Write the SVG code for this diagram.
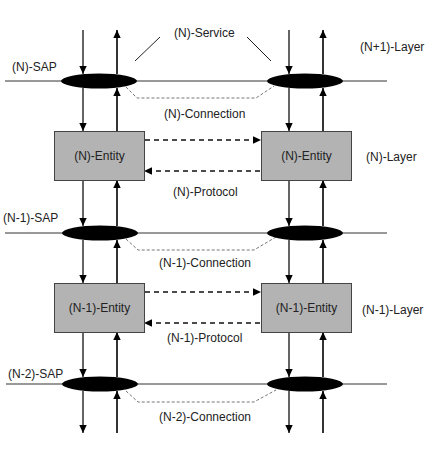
<svg xmlns="http://www.w3.org/2000/svg" width="429" height="465" viewBox="0 0 429 465">
<style>
text{font-family:"Liberation Sans",Arial,sans-serif;font-size:12px;fill:#222}
.box{fill:#b3b3b3;stroke:#444;stroke-width:1}
.sap{fill:#000}
.hl{stroke:#333;stroke-width:1;fill:none}
.dn{stroke:#111;stroke-width:1.3;fill:none;marker-end:url(#ah)}
.up{stroke:#111;stroke-width:1.7;fill:none;marker-end:url(#ah)}
.pr{stroke:#111;stroke-width:1.5;fill:none;stroke-dasharray:5,4;marker-end:url(#ah)}
.cn{stroke:#666;stroke-width:0.9;fill:none;stroke-dasharray:3,2}
.sv{stroke:#222;stroke-width:1;fill:none}
</style>
<defs>
<marker id="ah" viewBox="0 0 8 8" refX="8" refY="4" markerWidth="8" markerHeight="8" markerUnits="userSpaceOnUse" orient="auto">
<path d="M0,0.3 L8,4 L0,7.7 Z" fill="#000"/>
</marker>
</defs>
<g id="layer-lines">
<line class="hl" x1="5" y1="81" x2="387" y2="81"/>
<line class="hl" x1="5" y1="233" x2="387" y2="233"/>
<line class="hl" x1="6" y1="384" x2="387" y2="384"/>
</g>
<g id="connectors">
<!-- left column -->
<line class="dn" x1="83" y1="30" x2="83" y2="74"/>
<line class="up" x1="117" y1="74" x2="117" y2="30"/>
<line class="dn" x1="83" y1="88" x2="83" y2="131"/>
<line class="up" x1="117" y1="131" x2="117" y2="88"/>
<line class="dn" x1="83" y1="180" x2="83" y2="226"/>
<line class="up" x1="117" y1="226" x2="117" y2="180"/>
<line class="dn" x1="83" y1="240" x2="83" y2="283"/>
<line class="up" x1="117" y1="283" x2="117" y2="240"/>
<line class="dn" x1="83" y1="332" x2="83" y2="377"/>
<line class="up" x1="117" y1="377" x2="117" y2="332"/>
<line class="dn" x1="83" y1="391" x2="83" y2="433"/>
<line class="up" x1="117" y1="433" x2="117" y2="391"/>
<!-- right column -->
<line class="dn" x1="289" y1="30" x2="289" y2="74"/>
<line class="up" x1="323" y1="74" x2="323" y2="30"/>
<line class="dn" x1="289" y1="88" x2="289" y2="131"/>
<line class="up" x1="323" y1="131" x2="323" y2="88"/>
<line class="dn" x1="289" y1="180" x2="289" y2="226"/>
<line class="up" x1="323" y1="226" x2="323" y2="180"/>
<line class="dn" x1="289" y1="240" x2="289" y2="283"/>
<line class="up" x1="323" y1="283" x2="323" y2="240"/>
<line class="dn" x1="289" y1="332" x2="289" y2="377"/>
<line class="up" x1="323" y1="377" x2="323" y2="332"/>
<line class="dn" x1="289" y1="391" x2="289" y2="433"/>
<line class="up" x1="323" y1="433" x2="323" y2="391"/>
<!-- protocols -->
<line class="pr" x1="145" y1="140" x2="261" y2="140"/>
<line class="pr" x1="260" y1="171" x2="144" y2="171"/>
<line class="pr" x1="145" y1="292" x2="261" y2="292"/>
<line class="pr" x1="260" y1="323" x2="144" y2="323"/>
<!-- connections -->
<polyline class="cn" points="126,87 137,98 256,98 274,86"/>
<polyline class="cn" points="126,239 138,250 254,250 276,237"/>
<polyline class="cn" points="126,391 138,402 254,402 276,390"/>
<!-- service -->
<line class="sv" x1="135" y1="61" x2="160" y2="37"/>
<line class="sv" x1="247" y1="37" x2="271" y2="61"/>
</g>
<g id="sap-n-left"><ellipse class="sap" cx="99" cy="81" rx="38" ry="7.5"/></g>
<g id="sap-n-right"><ellipse class="sap" cx="305" cy="81" rx="38" ry="7.5"/></g>
<g id="sap-n1-left"><ellipse class="sap" cx="100" cy="233" rx="38" ry="7.5"/></g>
<g id="sap-n1-right"><ellipse class="sap" cx="305" cy="233" rx="38" ry="7.5"/></g>
<g id="sap-n2-left"><ellipse class="sap" cx="100" cy="384" rx="38" ry="7.5"/></g>
<g id="sap-n2-right"><ellipse class="sap" cx="305" cy="384" rx="38" ry="7.5"/></g>
<g id="entity-n-left"><rect class="box" x="54.5" y="131.5" width="90" height="49"/><text x="99.5" y="160" text-anchor="middle">(N)-Entity</text></g>
<g id="entity-n-right"><rect class="box" x="261.5" y="131.5" width="90" height="49"/><text x="306.5" y="160" text-anchor="middle">(N)-Entity</text></g>
<g id="entity-n1-left"><rect class="box" x="54.5" y="283.5" width="90" height="49"/><text x="99.5" y="312" text-anchor="middle">(N-1)-Entity</text></g>
<g id="entity-n1-right"><rect class="box" x="261.5" y="283.5" width="90" height="49"/><text x="306.5" y="312" text-anchor="middle">(N-1)-Entity</text></g>
<g id="labels">
<text x="174" y="37">(N)-Service</text>
<text x="12" y="71">(N)-SAP</text>
<text x="360" y="51">(N+1)-Layer</text>
<text x="164" y="118">(N)-Connection</text>
<text x="366" y="161">(N)-Layer</text>
<text x="173" y="196">(N)-Protocol</text>
<text x="3" y="222">(N-1)-SAP</text>
<text x="159" y="267">(N-1)-Connection</text>
<text x="362" y="314">(N-1)-Layer</text>
<text x="167" y="342">(N-1)-Protocol</text>
<text x="8" y="378">(N-2)-SAP</text>
<text x="159" y="421">(N-2)-Connection</text>
</g>
</svg>
